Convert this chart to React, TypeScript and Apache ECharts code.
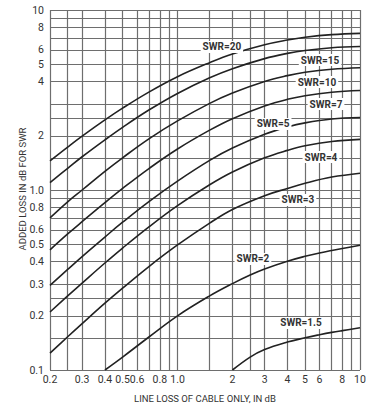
import React, { useEffect, useRef } from 'react';
import * as echarts from 'echarts';

// ---- data ----
const lineLoss = [0.2, 0.25, 0.3, 0.4, 0.5, 0.7, 1, 1.5, 2, 3, 4, 5, 7, 10];
const swr20 = [1.45, 1.73, 1.99, 2.45, 2.85, 3.51, 4.26, 5.1, 5.7, 6.41, 6.81, 7.06, 7.3, 7.42];
const swr15 = [1.1, 1.32, 1.53, 1.9, 2.23, 2.79, 3.44, 4.2, 4.72, 5.37, 5.74, 5.96, 6.17, 6.27];
const swr10 = [0.7, 0.86, 1.0, 1.27, 1.51, 1.93, 2.42, 3.03, 3.46, 4.01, 4.32, 4.51, 4.69, 4.78];
const swr7 = [0.465, 0.57, 0.667, 0.85, 1.02, 1.32, 1.69, 2.15, 2.49, 2.93, 3.19, 3.34, 3.49, 3.57];
const swr5 = [0.295, 0.362, 0.427, 0.548, 0.662, 0.865, 1.12, 1.46, 1.71, 2.04, 2.24, 2.36, 2.48, 2.53];
const swr4 = [0.21, 0.258, 0.304, 0.393, 0.476, 0.626, 0.819, 1.07, 1.26, 1.51, 1.66, 1.76, 1.86, 1.91];
const swr3 = [0.124, 0.153, 0.181, 0.235, 0.285, 0.377, 0.495, 0.655, 0.78, 0.93, 1.02, 1.09, 1.18, 1.24];
const lineLossSwr2 = [0.4, 0.5, 0.7, 1, 1.5, 2, 2.5, 3, 4, 5, 6, 7, 8, 10];
const swr2 = [0.1, 0.118, 0.153, 0.2, 0.258, 0.302, 0.337, 0.364, 0.402, 0.428, 0.447, 0.461, 0.473, 0.493];
const lineLossSwr15 = [2, 2.5, 3, 4, 5, 6, 7, 8, 10];
const swr1_5 = [0.1, 0.118, 0.13, 0.143, 0.151, 0.157, 0.1618, 0.1655, 0.1715];

const curveNames = ['SWR=20', 'SWR=15', 'SWR=10', 'SWR=7', 'SWR=5', 'SWR=4', 'SWR=3', 'SWR=2', 'SWR=1.5'];
// label anchor points (line loss, added loss)
const labelX = [1.75, 6.04, 5.81, 6.51, 3.34, 6.11, 4.57, 2.59, 4.75];
const labelY = [6.23, 5.27, 3.98, 3.0, 2.33, 1.525, 0.88, 0.414, 0.1825];

const xGridValues = [0.2, 0.25, 0.3, 0.4, 0.5, 0.6, 0.7, 0.8, 0.9, 1, 1.5, 2, 2.5, 3, 4, 5, 6, 7, 8, 9, 10];
const yGridValues = [0.1, 0.15, 0.2, 0.25, 0.3, 0.4, 0.5, 0.6, 0.7, 0.8, 0.9, 1, 1.5, 2, 2.5, 3, 4, 5, 6, 7, 8, 9, 10];
const xTickValues = [0.2, 0.3, 0.4, 0.5, 0.6, 0.8, 1, 2, 3, 4, 5, 6, 8, 10];
const xTickLabels = ['0.2', '0.3', '0.4', '0.5', '0.6', '0.8', '1.0', '2', '3', '4', '5', '6', '8', '10'];
const yTickValues = [0.1, 0.2, 0.3, 0.4, 0.5, 0.6, 0.8, 1, 2, 4, 5, 6, 8, 10];
const yTickLabels = ['0.1', '0.2', '0.3', '0.4', '0.5', '0.6', '0.8', '1.0', '2', '4', '5', '6', '8', '10'];

const xTitle = 'LINE LOSS OF CABLE ONLY, IN dB';
const yTitle = 'ADDED LOSS IN dB FOR SWR';

const FONT = 'Roboto, "Liberation Sans", sans-serif';
const INK = '#222';
const GRID = '#6e6e6e';

function pairs(xs: number[], ys: number[]) {
  return xs.map((x, i) => [x, ys[i]]);
}

export default function App() {
  const ref = useRef<HTMLDivElement>(null);
  useEffect(() => {
    if (!ref.current) return;
    const chart = echarts.init(ref.current, undefined, { renderer: 'svg' });

    const curves = [
      pairs(lineLoss, swr20),
      pairs(lineLoss, swr15),
      pairs(lineLoss, swr10),
      pairs(lineLoss, swr7),
      pairs(lineLoss, swr5),
      pairs(lineLoss, swr4),
      pairs(lineLoss, swr3),
      pairs(lineLossSwr2, swr2),
      pairs(lineLossSwr15, swr1_5),
    ];

    const tickLabelStyle = {
      show: true,
      position: 'start' as const,
      color: '#333',
      fontSize: 10.5,
      fontFamily: FONT,
    };

    const gridLines: any[] = [];
    xGridValues.forEach((v) => {
      const idx = xTickValues.indexOf(v);
      gridLines.push({
        xAxis: v,
        label: idx >= 0 ? { ...tickLabelStyle, formatter: xTickLabels[idx], distance: 4 } : { show: false },
      });
    });
    yGridValues.forEach((v) => {
      const idx = yTickValues.indexOf(v);
      gridLines.push({
        yAxis: v,
        label: idx >= 0 ? { ...tickLabelStyle, formatter: yTickLabels[idx], distance: 6 } : { show: false },
      });
    });

    const series: any[] = [
      {
        name: 'grid',
        type: 'line',
        data: [],
        silent: true,
        z: 1,
        markLine: {
          silent: true,
          z: 1,
          symbol: ['none', 'none'],
          lineStyle: { color: GRID, width: 1.2, type: 'solid' },
          emphasis: { disabled: true },
          data: gridLines,
        },
      },
    ];
    curves.forEach((c, i) => {
      series.push({
        name: curveNames[i],
        type: 'line',
        data: c,
        smooth: 0.4,
        showSymbol: false,
        symbol: 'none',
        silent: true,
        z: 10,
        lineStyle: { color: INK, width: 1.6 },
      });
    });
    series.push({
      name: 'labels',
      type: 'line',
      data: [],
      silent: true,
      z: 20,
      markPoint: {
        silent: true,
        z: 20,
        symbol: 'rect',
        symbolSize: 0,
        data: curveNames.map((n, i) => ({
          coord: [labelX[i], labelY[i]],
          value: n,
          label: {
            show: true,
            position: 'inside',
            formatter: n,
            color: '#333',
            fontSize: 10,
            fontWeight: 'bold',
            fontFamily: FONT,
            backgroundColor: '#fff',
            padding: [1, 2],
          },
        })),
      },
    });

    chart.setOption({
      animation: false,
      backgroundColor: '#fff',
      grid: { left: 50, right: 16, top: 10, bottom: 38, show: false },
      xAxis: {
        type: 'log',
        logBase: 10,
        min: 0.2,
        max: 10,
        axisLine: { show: false },
        axisTick: { show: false },
        axisLabel: { show: false },
        splitLine: { show: false },
      },
      yAxis: {
        type: 'log',
        logBase: 10,
        min: 0.1,
        max: 10,
        axisLine: { show: false },
        axisTick: { show: false },
        axisLabel: { show: false },
        splitLine: { show: false },
      },
      graphic: [
        {
          type: 'text',
          x: 22,
          y: 189,
          rotation: Math.PI / 2,
          silent: true,
          style: {
            text: yTitle,
            textAlign: 'center',
            textVerticalAlign: 'middle',
            fontSize: 9.5,
            fontFamily: FONT,
            fill: '#333',
          },
        },
        {
          type: 'text',
          x: 205,
          y: 398,
          silent: true,
          style: {
            text: xTitle,
            textAlign: 'center',
            textVerticalAlign: 'middle',
            fontSize: 9.5,
            fontFamily: FONT,
            fill: '#333',
          },
        },
      ],
      series,
    });
    return () => chart.dispose();
  }, []);
  return <div ref={ref} style={{ position: 'absolute', left: 0, top: 0, width: 376, height: 408, background: '#fff' }} />;
}
